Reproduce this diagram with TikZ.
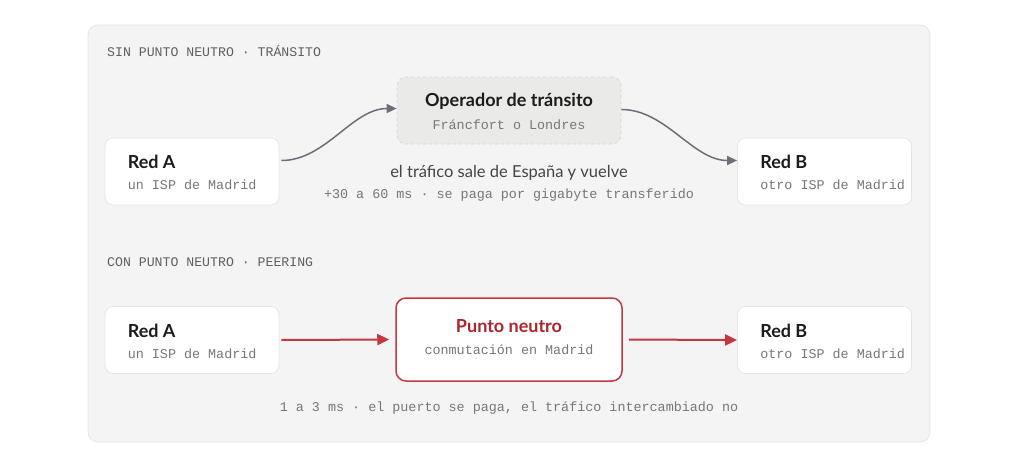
\documentclass[tikz,border=0pt]{standalone}
\usepackage{fontspec}
\setmainfont{Lato}
\setmonofont{Liberation Mono}
\usetikzlibrary{positioning,arrows.meta}

\definecolor{panelfill}{HTML}{F4F4F4}
\definecolor{panelline}{HTML}{E4E4E4}
\definecolor{boxline}{HTML}{E6E6E6}
\definecolor{transfill}{HTML}{EAEAE8}
\definecolor{transline}{HTML}{D8D8D6}
\definecolor{inkdark}{HTML}{1C1C1C}
\definecolor{inkgray}{HTML}{777777}
\definecolor{inkmid}{HTML}{444444}
\definecolor{linkgray}{HTML}{6E6E78}
\definecolor{ixred}{HTML}{C4373E}
\definecolor{ixredtxt}{HTML}{A8272E}

\tikzset{
  netbox/.style = {draw=boxline, line width=0.8pt, fill=white,
    rounded corners=8pt, minimum width=174pt, minimum height=67pt},
  transbox/.style = {draw=transline, dashed, line width=0.8pt, fill=transfill,
    rounded corners=9pt, minimum width=224pt, minimum height=67pt},
  ixbox/.style = {draw=ixred, line width=1.5pt, fill=white,
    rounded corners=10pt, minimum width=226pt, minimum height=83pt},
  ttl/.style = {inner sep=0pt, text=inkdark,
    font=\fontsize{18}{20}\selectfont\bfseries},
  sub/.style = {inner sep=0pt, text=inkgray, font=\fontsize{13.4}{15}\ttfamily},
  hdr/.style = {inner sep=0pt, anchor=west, text=inkgray!80!black,
    font=\fontsize{13.2}{15}\ttfamily},
  curvelink/.style = {draw=linkgray, line width=1.5pt,
    -{Triangle[length=10pt,width=9pt]}},
  ixlink/.style = {draw=ixred, line width=2pt,
    -{Triangle[length=12pt,width=11pt]}, shorten >=6pt, shorten <=2pt}
}

\begin{document}
\begin{tikzpicture}[x=1pt,y=-1pt]
  \useasboundingbox (0,0) rectangle (1024,459);
  \fill[white] (0,0) rectangle (1024,459);
  \draw[panelline, fill=panelfill, rounded corners=10pt, line width=0.8pt]
    (88,25) rectangle (930,442);

  % sin punto neutro
  \node[hdr] (hdrtop) at (107,51) {SIN PUNTO NEUTRO · TRÁNSITO};
  \node[netbox] (topA) at (192,171.5) {};
  \node[transbox] (oper) at (509,110.5) {};
  \node[netbox] (topB) at (824.5,171.5) {};
  \node[ttl, anchor=west] (topAt) at ([xshift=23pt,yshift=9.5pt]topA.west) {Red A};
  \node[sub, anchor=west] (topAs) at ([xshift=23pt,yshift=-13.5pt]topA.west) {un ISP de Madrid};
  \node[ttl] (opert) at ([yshift=9.5pt]oper.center) {Operador de tránsito};
  \node[sub] (opers) at ([yshift=-14.5pt]oper.center) {Fráncfort o Londres};
  \node[ttl, anchor=west] (topBt) at ([xshift=23pt,yshift=9.5pt]topB.west) {Red B};
  \node[sub, anchor=west] (topBs) at ([xshift=23pt,yshift=-13.5pt]topB.west) {otro ISP de Madrid};
  \node[inner sep=0pt, text=inkmid, font=\fontsize{16.5}{18}\selectfont]
    (leave) at (509,173) {el tráfico sale de España y vuelve};
  \node[sub] (costtop) at (509,195) {+30 a 60 ms · se paga por gigabyte transferido};
  \coordinate (operin) at ([yshift=2pt]oper.west);
  \coordinate (operout) at ([yshift=1pt]oper.east);
  \draw[curvelink] ([xshift=2pt,yshift=11pt]topA.east) to[out=0,in=180,looseness=0.9] (operin);
  \draw[curvelink] (operout) to[out=0,in=180,looseness=0.9] ([yshift=11pt]topB.west);

  % con punto neutro
  \node[hdr] (hdrbot) at (107,262) {CON PUNTO NEUTRO · PEERING};
  \node[netbox] (botA) at (192,340) {};
  \node[ixbox] (ix) at (509,339.5) {};
  \node[netbox] (botB) at (824.5,340) {};
  \node[ttl, anchor=west] (botAt) at ([xshift=23pt,yshift=9.5pt]botA.west) {Red A};
  \node[sub, anchor=west] (botAs) at ([xshift=23pt,yshift=-13.5pt]botA.west) {un ISP de Madrid};
  \node[ttl, text=ixredtxt] (ixt) at ([yshift=13.5pt]ix.center) {Punto neutro};
  \node[sub] (ixs) at ([yshift=-10.5pt]ix.center) {conmutación en Madrid};
  \node[ttl, anchor=west] (botBt) at ([xshift=23pt,yshift=9.5pt]botB.west) {Red B};
  \node[sub, anchor=west] (botBs) at ([xshift=23pt,yshift=-13.5pt]botB.west) {otro ISP de Madrid};
  \node[sub] (costbot) at (509,408) {1 a 3 ms · el puerto se paga, el tráfico intercambiado no};
  \draw[ixlink] (botA.east) -- (ix.west);
  \draw[ixlink, shorten <=6pt, shorten >=0pt] (ix.east) -- (botB.west);
\end{tikzpicture}
\end{document}
